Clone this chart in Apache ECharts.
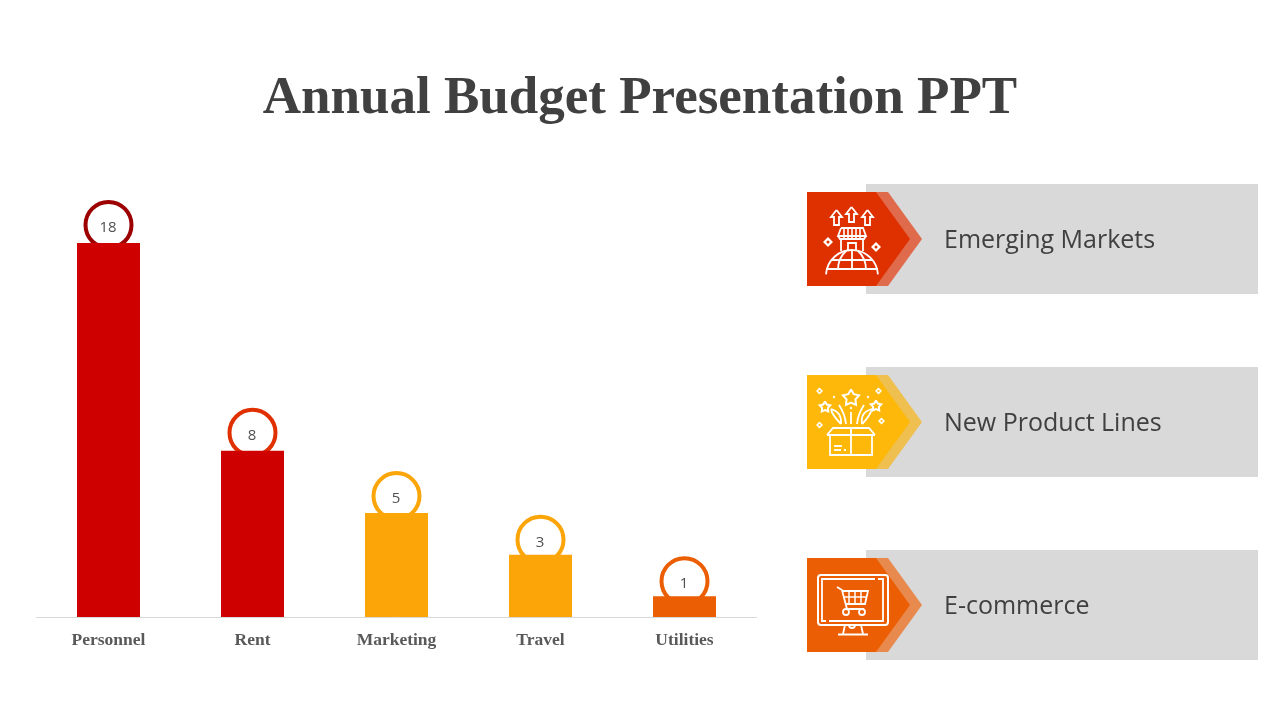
<!DOCTYPE html>
<html>
<head>
<meta charset="utf-8">
<style>html,body{margin:0;background:#fff}#chart{width:1280px;height:720px}</style>
<script src="https://cdn.jsdelivr.net/npm/echarts@6/dist/echarts.min.js"></script>
</head>
<body>
<div id="chart"></div>
<script>
const titleText = "Annual Budget Presentation PPT";
const categories = ["Personnel", "Rent", "Marketing", "Travel", "Utilities"];
const budgetValues = [18, 8, 5, 3, 1];
const barColors = ["#cf0000", "#cf0000", "#fba508", "#fba508", "#eb5e04"];
const ringColors = ["#9c0000", "#e03000", "#fba508", "#fba508", "#eb5e04"];
const ringLift = [18, 18, 17, 15, 15];
const panelLabels = ["Emerging Markets", "New Product Lines", "E-commerce"];
const panelColors = ["#df3100", "#fdb80a", "#eb5e04"];
const panelLight = ["#e06a4c", "#efc04f", "#e88a4e"];
const panelTops = [184, 367, 550];

const WHITE = "#fff";
const lw = 1.8;

function line(points, width) {
  return { type: "polyline", shape: { points }, style: { stroke: WHITE, lineWidth: width || lw, fill: null } };
}
function ring(cx, cy, r) {
  return { type: "circle", shape: { cx, cy, r }, style: { stroke: WHITE, lineWidth: lw, fill: null } };
}
function arc(cx, cy, r, a, b) {
  return { type: "arc", shape: { cx, cy, r, startAngle: a, endAngle: b }, style: { stroke: WHITE, lineWidth: lw, fill: null } };
}
function curve(x1, y1, cx, cy, x2, y2) {
  return { type: "bezierCurve", shape: { x1, y1, cpx1: cx, cpy1: cy, x2, y2 }, style: { stroke: WHITE, lineWidth: lw, fill: null } };
}
// four point sparkle with a small hole in the middle
function sparkle(x, y, r, hole) {
  return [
    { type: "polygon", shape: { points: [[x, y - r], [x + r, y], [x, y + r], [x - r, y]] }, style: { fill: WHITE } },
    { type: "circle", shape: { cx: x, cy: y, r: r * 0.3 }, style: { fill: hole } },
  ];
}
function upArrow(x, top) {
  return line([[x, top], [x + 5.5, top + 7], [x + 2.5, top + 7], [x + 2.5, top + 15], [x - 2.5, top + 15], [x - 2.5, top + 7], [x - 5.5, top + 7], [x, top]]);
}
function star(x, y, r) {
  const pts = [];
  for (let i = 0; i < 10; i++) {
    const a = -Math.PI / 2 + i * Math.PI / 5;
    const d = i % 2 ? r * 0.55 : r;
    pts.push([x + d * Math.cos(a), y + d * Math.sin(a)]);
  }
  pts.push(pts[0]);
  return line(pts, 2);
}

function marketIcon() {
  const hole = panelColors[0];
  const out = [upArrow(836.5, 210), upArrow(851.5, 207), upArrow(867.5, 210)];
  // shop awning and walls
  out.push(line([[841, 228], [863, 228], [866, 236], [838, 236], [841, 228]]));
  [844, 848, 852, 856, 860].forEach((x) => out.push(line([[x, 228], [x, 238]], 1.6)));
  out.push(line([[838, 236], [840, 239], [864, 239], [866, 236]]));
  out.push(line([[841, 239], [841, 251]]), line([[863, 239], [863, 251]]));
  out.push(line([[848, 250], [848, 243], [856, 243], [856, 250]]));
  // globe
  out.push(arc(852, 276, 26, Math.PI * 1.02, Math.PI * 1.98));
  out.push(line([[826, 269], [878, 269]]), line([[832, 260], [872, 260]]));
  out.push(line([[852, 250], [852, 270]]));
  out.push(curve(846, 251, 838, 258, 838, 270), curve(858, 251, 866, 258, 866, 270));
  return out.concat(sparkle(828, 242, 5, hole), sparkle(876, 247, 5, hole));
}

function productIcon() {
  const hole = panelColors[1];
  const out = [star(851, 398, 8.5), star(825, 407, 5.5), star(876, 406, 5.5)];
  // streaks
  out.push(curve(841, 424, 832, 415, 831, 409), curve(831, 409, 842, 412, 841, 424));
  out.push(curve(862, 424, 870, 416, 872, 409), curve(872, 409, 860, 412, 862, 424));
  out.push(curve(846, 424, 845, 414, 839, 405), curve(857, 424, 858, 414, 864, 405));
  out.push(line([[851, 412], [851, 424]]));
  // box
  out.push(line([[830, 435], [830, 455], [872, 455], [872, 435]]));
  out.push(line([[827, 435], [833, 428], [851, 428], [851, 435], [827, 435]]));
  out.push(line([[875, 435], [869, 428], [851, 428], [851, 435], [875, 435]]));
  out.push(line([[851, 435], [851, 455]]));
  out.push(line([[834, 446], [842, 446]]), line([[834, 450], [841, 450]]), line([[844, 450], [846, 450]]));
  return out.concat(
    sparkle(819.5, 391, 3.5, hole), sparkle(878.5, 391, 3.5, hole),
    sparkle(819.5, 425, 3.5, hole), sparkle(881.5, 421, 3.5, hole),
    sparkle(834, 397, 1.4, WHITE), sparkle(868, 397, 1.4, WHITE), sparkle(851, 408, 1.4, WHITE)
  );
}

function commerceIcon() {
  const out = [];
  out.push({ type: "rect", shape: { x: 818, y: 575, width: 70, height: 50, r: 3 }, style: { stroke: WHITE, lineWidth: 2, fill: null } });
  out.push(line([[878, 579], [883, 579], [883, 621], [829, 621]]));
  out.push(line([[875, 579], [822, 579], [822, 621], [826, 621]]));
  out.push(line([[845, 625], [843, 634]]), line([[861, 625], [863, 634]]));
  out.push(line([[838, 634.5], [868, 634.5]], 2));
  out.push(arc(852, 625, 3, 0, Math.PI));
  // cart
  out.push(line([[837, 587], [842, 590], [847, 609], [864, 609]]));
  out.push(line([[842, 591], [868, 591], [865, 604], [845, 604]]));
  [849, 855, 861].forEach((x) => out.push(line([[x, 591], [x, 604]], 1.5)));
  out.push(line([[844, 597], [867, 597]], 1.5));
  out.push(ring(846, 612, 3), ring(862, 612, 3));
  return out;
}

const panelIcons = [marketIcon(), productIcon(), commerceIcon()];

const panelGraphics = [];
panelTops.forEach((top, i) => {
  const y0 = top + 8;
  const y1 = y0 + 94;
  const mid = y0 + 47;
  panelGraphics.push({ type: "rect", shape: { x: 866, y: top, width: 392, height: 110 }, style: { fill: "#d9d9d9" } });
  panelGraphics.push({ type: "polygon", shape: { points: [[876, y0], [888, y0], [922, mid], [888, y1], [876, y1]] }, style: { fill: panelLight[i] } });
  panelGraphics.push({ type: "polygon", shape: { points: [[807, y0], [876, y0], [910, mid], [876, y1], [807, y1]] }, style: { fill: panelColors[i] } });
  panelIcons[i].forEach((el) => panelGraphics.push(el));
  panelGraphics.push({
    type: "text", x: 944, y: mid + 2,
    style: { text: panelLabels[i], fill: "#404040", font: '25px "Open Sans"', textVerticalAlign: "middle", textBaseline: "middle" },
  });
});

const chart = echarts.init(document.getElementById("chart"), null, { renderer: "canvas" });
chart.setOption({
  animation: false,
  backgroundColor: "#fff",
  title: {
    text: titleText, left: "center", top: 68,
    textStyle: { fontFamily: "Liberation Serif", fontWeight: "bold", fontSize: 53, color: "#404040" },
  },
  grid: { left: 36.5, width: 720, top: 201.4, bottom: 103 },
  xAxis: {
    type: "category",
    data: categories,
    axisLine: { lineStyle: { color: "#d9d9d9", width: 1 } },
    axisTick: { show: false },
    axisLabel: { margin: 14, fontFamily: "Liberation Serif", fontWeight: "bold", fontSize: 17.5, color: "#595959" },
  },
  yAxis: { type: "value", min: 0, max: 20, show: false, splitLine: { show: false } },
  series: [
    {
      type: "scatter",
      z: 1,
      data: budgetValues.map((v, i) => ({
        value: v,
        symbolOffset: [0, -ringLift[i]],
        itemStyle: { borderColor: ringColors[i] },
      })),
      symbol: "circle",
      symbolSize: 46,
      itemStyle: { color: "#fff", borderWidth: 4, opacity: 1 },
      label: { show: true, position: "inside", offset: [-0.5, 3], color: "#505050", fontFamily: "Open Sans", fontSize: 15 },
    },
    {
      type: "bar",
      z: 2,
      barWidth: 63,
      data: budgetValues.map((v, i) => ({ value: v, itemStyle: { color: barColors[i] } })),
    },
  ],
  graphic: { elements: panelGraphics },
});
</script>
</body>
</html>
